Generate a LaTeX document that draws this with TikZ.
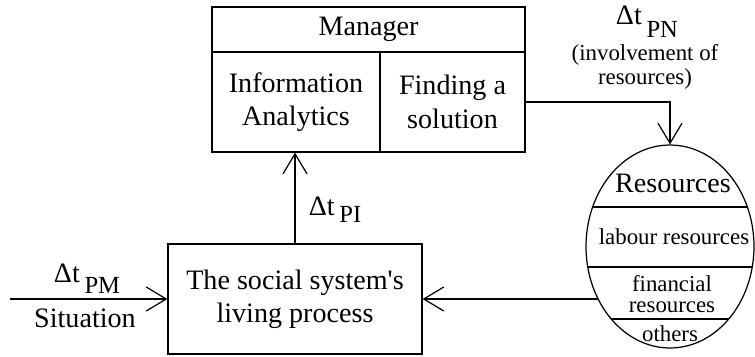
\documentclass[tikz,border=0pt]{standalone}
\usepackage{fontspec}
\setmainfont{Liberation Serif}
\usetikzlibrary{arrows.meta,shapes.geometric}
\tikzset{
  box/.style={draw, rectangle, inner sep=0pt, align=center},
  arr/.style={-{Straight Barb[length=4mm,width=4.8mm]}},
  small/.style={font=\fontsize{13}{11.5}\selectfont, align=center},
}
% delta t with a lowered index
\newcommand{\dtsub}[2]{Δt\,\raisebox{-#1}{\fontsize{14}{14}\selectfont #2}}

\begin{document}
\begin{tikzpicture}[x=0.02cm, y=-0.02cm, line width=0.7pt, font=\fontsize{16}{19}\selectfont]
  \useasboundingbox (0,0) rectangle (755,356);
  % manager block
  \node[box, minimum width=6.26cm, minimum height=0.9cm] (mgr) at (368.5,29.5) {Manager};
  \node[box, minimum width=3.36cm, minimum height=2cm] (info) at (296,102) {Information\\Analytics};
  \node[box, minimum width=2.9cm, minimum height=2cm] (sol) at (452.5,102) {Finding a\\solution};
  % process
  \node[box, minimum width=5.08cm, minimum height=2.2cm] (proc) at (295,299) {The social system\textquotesingle s\\living process};
  % resources
  \node[draw, ellipse, inner sep=0pt, minimum width=3.36cm, minimum height=4.06cm] (res) at (670,246.5) {};
  \begin{scope}
    \clip (670,246.5) ellipse [x radius=84, y radius=101.5];
    \draw (580,207) -- (760,207);
    \draw (580,267) -- (760,267);
    \draw (580,319) -- (760,319);
  \end{scope}
  \node[anchor=base] (restitle) at (673,192) {Resources};
  \node[small, anchor=base] (labour) at (674,244) {labour resources};
  \node[small] (finance) at (672,294) {financial\\resources};
  \node[small, anchor=base] (others) at (670,341) {others};
  % connectors
  \coordinate (src) at (10,299);
  \draw[arr] (src) -- (proc.west);
  \draw[arr] (proc.north) -- (proc.north |- info.south);
  \draw[arr] (sol.east) -| (res.north);
  \draw[arr] (res.216 |- proc.east) -- (proc.east);
  % labels
  \node[anchor=base] (dpm) at (87,282) {\dtsub{0.9ex}{PM}};
  \node[anchor=base] (situation) at (85,327) {Situation};
  \node[anchor=base] (dpi) at (335,215) {\dtsub{0.55ex}{PI}};
  \node[anchor=base, inner sep=0pt] (dpn) at (647,24) {\dtsub{1.05ex}{PN}};
  \node[font=\fontsize{13}{13.5}\selectfont, align=center, inner sep=0pt] (involve) at (645,67) {(involvement of\\resources)};
\end{tikzpicture}
\end{document}
